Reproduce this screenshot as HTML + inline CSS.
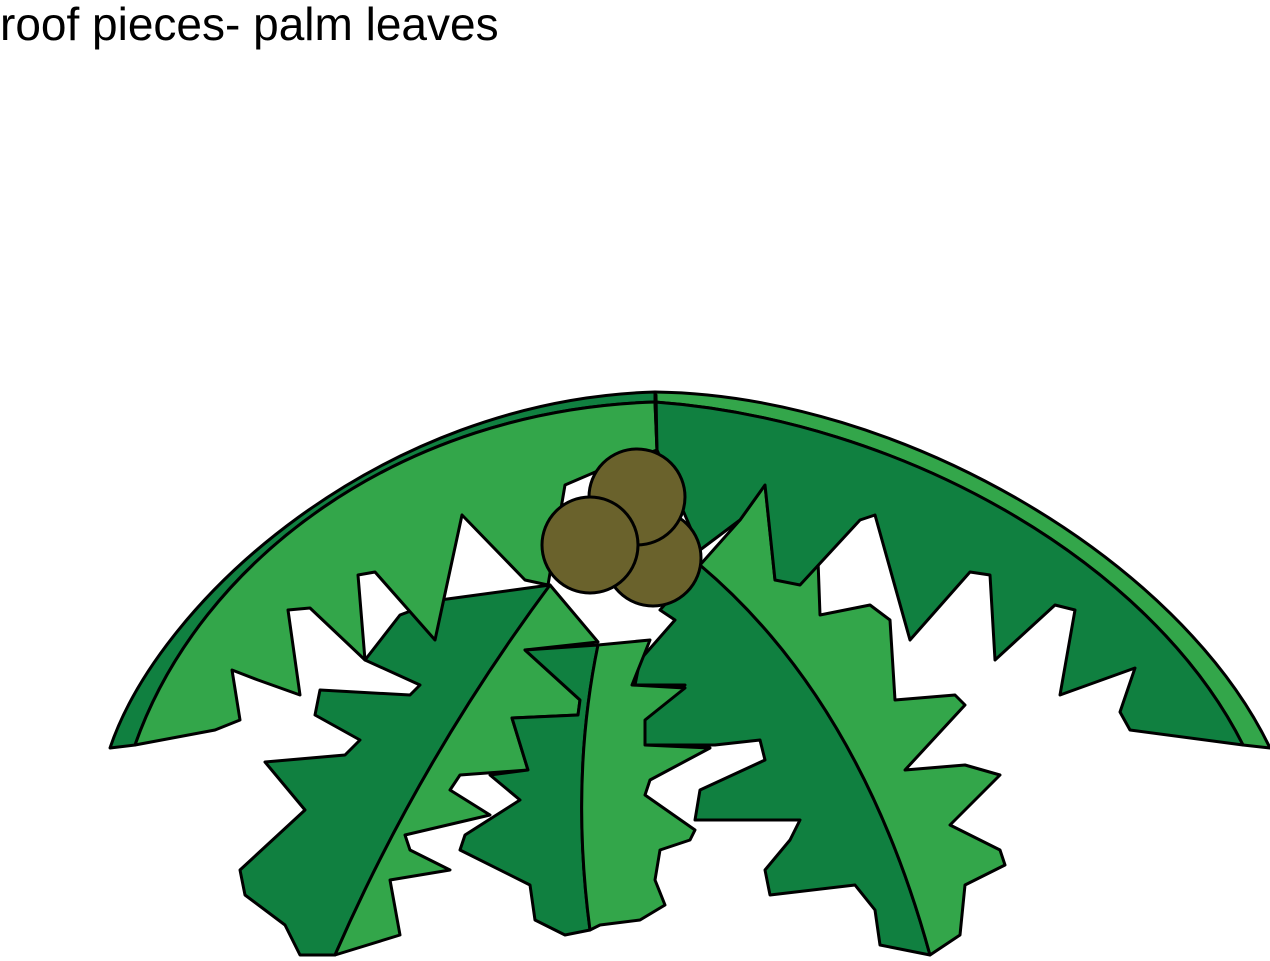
<!DOCTYPE html>
<html><head><meta charset="utf-8"><style>
html,body{margin:0;padding:0;background:#fff;width:1270px;height:961px;overflow:hidden}
.t{position:absolute;left:0;top:-4px;font-family:"Liberation Sans",sans-serif;font-size:46px;line-height:56px;color:#000}
svg{position:absolute;left:0;top:0}
</style></head><body>
<div class="t">roof pieces- palm leaves</div>
<svg width="1270" height="961" viewBox="0 0 1270 961" stroke="#000" stroke-width="3" stroke-linejoin="round" stroke-linecap="round">
<g>
<path fill="#108040" d="M550,585 Q420,760 335,955 L300,955 L285,925 L245,895 L240,870 L305,810 L265,762 L345,755 L360,740 L315,715 L320,690 L410,695 L420,685 L365,660 L400,615 L440,600 Z"/>
<path fill="#33a64a" d="M550,585 L598,642 L525,650 L580,700 L578,715 L512,718 L528,770 L460,775 L450,790 L490,815 L405,835 L410,850 L450,870 L390,880 L400,935 L335,955 Q420,760 550,585 Z"/>
<path fill="#108040" d="M598,645 L525,650 L580,700 L578,715 L512,718 L528,770 L490,775 L520,800 L465,835 L460,850 L530,885 L535,920 L565,935 L590,930 Q570,780 598,645 Z"/>
<path fill="#108040" d="M700,565 Q860,700 930,955 L880,945 L875,910 L855,885 L770,895 L765,870 L790,840 L800,820 L695,820 L700,790 L765,760 L760,740 L715,745 L640,745 L645,720 L685,685 L635,685 L640,660 L675,620 L660,610 Z"/>
<path fill="#33a64a" d="M598,645 L650,640 L640,665 L632,685 L685,688 L645,720 L645,745 L710,748 L650,780 L645,795 L695,830 L690,840 L660,850 L655,880 L665,905 L640,920 L600,925 L590,930 Q570,780 598,645 Z"/>
<path fill="#33a64a" d="M700,565 Q860,700 930,955 L960,935 L965,885 L1005,865 L1000,850 L950,825 L1000,775 L965,765 L905,770 L965,705 L955,695 L895,700 L890,620 L870,605 L820,615 L818,560 L775,580 L765,485 L740,520 Z"/>
</g>
<g>
<path fill="#108040" d="M110,748 C160,600 380,400 655,392 L655,402 C400,410 200,560 135,745 Z"/>
<path fill="#33a64a" d="M655,392 C900,395 1180,560 1270,748 L1243,745 C1150,560 900,420 655,402 Z"/>
<path fill="#33a64a" d="M135,745 C200,560 400,410 655,402 L657,450 L600,470 L565,485 L548,585 L525,580 L462,515 L435,640 L375,572 L358,575 L365,660 L310,608 L288,610 L300,695 L258,680 L232,670 L240,720 L215,730 Z"/>
<path fill="#108040" d="M655,402 C900,420 1150,560 1243,745 L1130,730 L1120,712 L1135,668 L1060,695 L1075,610 L1055,605 L995,660 L990,575 L970,572 L910,640 L875,515 L860,520 L800,585 L775,580 L765,485 L740,520 L700,550 L657,450 Z"/>
</g>
<line x1="656" y1="395" x2="657" y2="452"/>
<g fill="#6a622c">
<circle cx="653" cy="558" r="48"/>
<circle cx="637" cy="497" r="48"/>
<circle cx="590" cy="545" r="48"/>
</g>
</svg>
</body></html>
